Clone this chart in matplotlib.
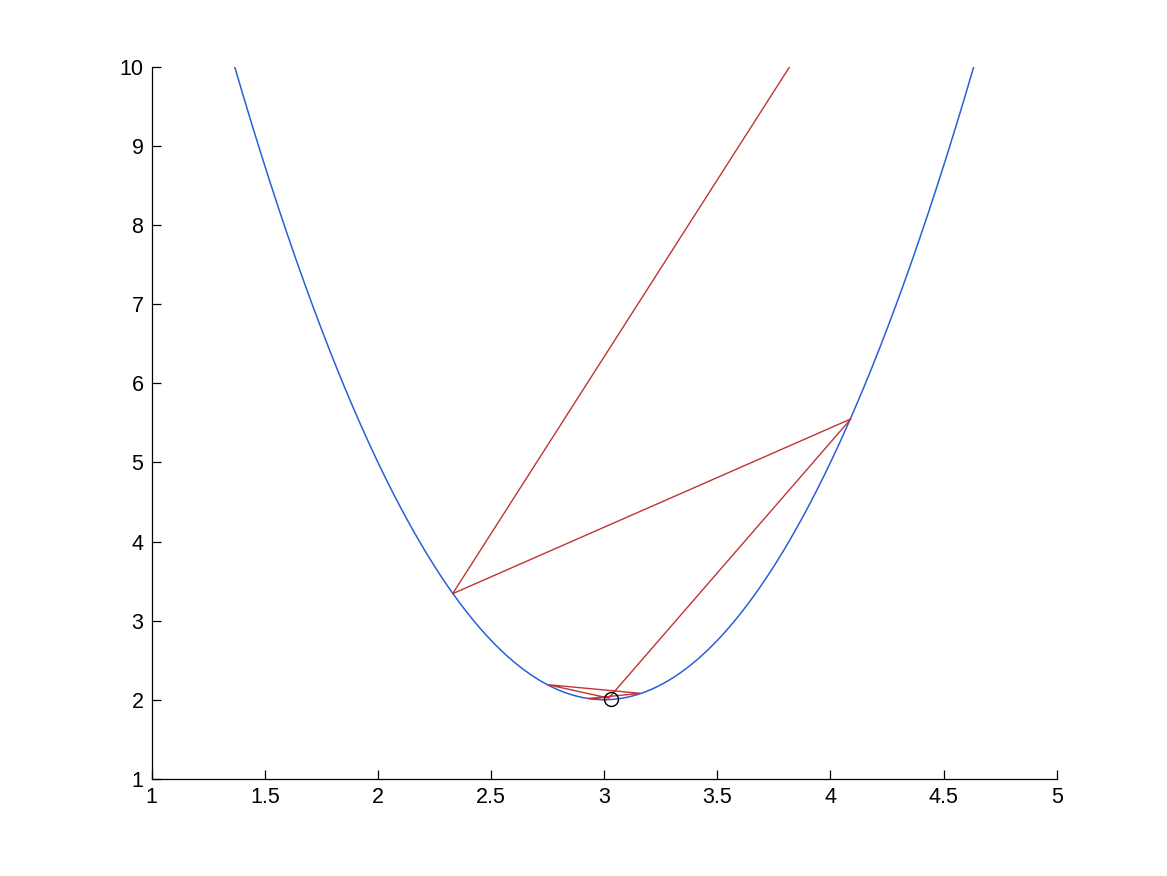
import numpy as np
import matplotlib.pyplot as plt

plt.rcParams['font.family'] = ['Liberation Sans', 'DejaVu Sans']

# parabola y = a*(x - x0)^2 + y0
a, x0, y0 = 3.0, 3.0, 2.0
x_curve = np.linspace(1.0, 5.0, 801)
y_curve = a * (x_curve - x0) ** 2 + y0

# red iteration path (points on the curve)
path_x = [5.16, 2.33, 4.09, 3.02, 2.75, 3.16, 2.93, 3.01]
path_y = [16.0, 3.34, 5.55, 2.02, 2.19, 2.08, 2.015, 2.0]

# final point marked with a circle
min_x = [3.03]
min_y = [2.01]

x_ticks = [1, 1.5, 2, 2.5, 3, 3.5, 4, 4.5, 5]
x_labels = ['1', '1.5', '2', '2.5', '3', '3.5', '4', '4.5', '5']
y_ticks = [1, 2, 3, 4, 5, 6, 7, 8, 9, 10]

fig = plt.figure(figsize=(11.67, 8.76), dpi=100)
ax = fig.add_axes([0.13, 0.111, 0.7755, 0.8125])

ax.plot(x_curve, y_curve, color='#2a5fd8', lw=1.1)
ax.plot(path_x, path_y, color='#c03434', lw=1.0)
ax.plot(min_x, min_y, 'o', mfc='none', mec='black', ms=10, mew=1.0)

ax.set_xlim(1, 5)
ax.set_ylim(1, 10)
ax.set_xticks(x_ticks)
ax.set_xticklabels(x_labels)
ax.set_yticks(y_ticks)
ax.tick_params(direction='in', length=6.5, width=0.9, labelsize=15.5, pad=6)
ax.spines['top'].set_visible(False)
ax.spines['right'].set_visible(False)
for s in ['left', 'bottom']:
    ax.spines[s].set_linewidth(0.9)

fig.savefig('out.png', dpi=100)
